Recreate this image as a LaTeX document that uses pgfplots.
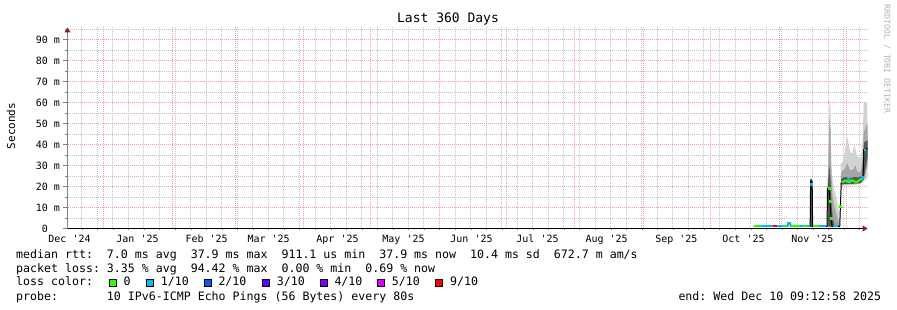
\documentclass[border=0pt]{standalone}
\usepackage{fontspec}
\setmonofont{DejaVu Sans Mono}
\usepackage{pgfplots}
\pgfplotsset{compat=1.18}
\usetikzlibrary{arrows.meta}
\definecolor{mgrid}{RGB}{245,160,160}
\definecolor{mingrid}{RGB}{195,195,195}
\definecolor{arrowred}{RGB}{140,30,30}
\definecolor{loss0}{HTML}{26FF00}
\definecolor{loss1}{HTML}{00B8FF}
\definecolor{loss2}{HTML}{0059FF}
\definecolor{loss3}{HTML}{5E00FF}
\definecolor{loss4}{HTML}{7E00FF}
\definecolor{loss5}{HTML}{DD00FF}
\definecolor{loss9}{HTML}{FF0000}
\definecolor{smokeA}{RGB}{210,210,210}
\definecolor{smokeB}{RGB}{165,165,165}
\definecolor{smokeC}{RGB}{85,85,85}
\newcommand{\lsq}[1]{{\fboxsep=0pt\fboxrule=0.8bp\fcolorbox{black}{#1}{\rule{0pt}{6.4bp}\hspace{6.4bp}}}}
\newcommand{\legfont}{\ttfamily\fontsize{11.6bp}{14bp}\selectfont}
\begin{document}
\begin{tikzpicture}[font=\ttfamily]
\useasboundingbox (0,0) rectangle (897bp,310bp);
\begin{axis}[
  at={(67.5bp,81.5bp)}, anchor=south west,
  scale only axis, width=800bp, height=201bp,
  xmin=0, xmax=360, ymin=0, ymax=95.7,
  axis lines=left,
  x axis line style={black, line width=1bp, -{Triangle[length=5bp,width=6bp,color=arrowred]}},
  y axis line style={gray, line width=1bp, -{Triangle[length=5bp,width=6bp,color=arrowred]}},
  xtick={0.9,31.5,62.6,90.5,121.5,151.2,181.8,211.5,242.6,274,304.2,335.2},
  xticklabels={Dec '24,Jan '25,Feb '25,Mar '25,Apr '25,May '25,Jun '25,Jul '25,Aug '25,Sep '25,Oct '25,Nov '25},
  xticklabel style={anchor=center, yshift=-7.5bp, text height=7bp, text depth=1bp, inner sep=0pt},
  major x tick style={draw=none},
  minor xtick={6.4,13.4,...,357},
  xmajorgrids=false, xminorgrids=true,
  ymajorgrids=true, yminorgrids=true,
  ytick={0,10,...,90},
  yticklabels={0\phantom{\ m},10 m,20 m,30 m,40 m,50 m,60 m,70 m,80 m,90 m},
  minor ytick={4.76,14.76,...,95},
  major grid style={draw=mgrid, dash pattern=on 1bp off 1bp, line width=1bp},
  minor grid style={draw=mingrid, dash pattern=on 1bp off 1bp, line width=1bp},
  tick align=outside, major tick length=4bp, minor tick length=2bp,
  tick label style={font=\ttfamily\fontsize{10bp}{12bp}\selectfont},
]
% month boundary grid lines
\pgfplotsinvokeforeach{16.2,47.25,75.6,106.2,136.35,167.4,197.55,228.15,259.2,289.35,320.4,350.55}{
  \addplot[mgrid, dash pattern=on 1bp off 1bp, line width=1bp, forget plot] coordinates {(#1,0)(#1,95.7)};
}
% smoke: spike 1
\addplot[fill=smokeC, draw=none] coordinates {(334.2,0.8)(334.2,23.5)(335.2,23.5)(335.2,0.8)} -- cycle;
% smoke: spike 2
\addplot[fill=smokeA, draw=none] coordinates {(341.9,0.8)(342.0,20)(342.5,40)(342.9,61)(343.3,61)(343.5,45)(343.8,30)(344.3,23)(345,19)(345.8,16)(346.5,12)(347.2,7)(347.6,2)(347.6,0.5)(341.9,0.5)} -- cycle;
\addplot[fill=smokeB, draw=none] coordinates {(342.0,1)(342.2,25)(342.9,52)(343.3,50)(343.6,30)(344.2,16)(345,11)(345.8,8)(346.5,5)(347.2,2)(347.3,0.8)} -- cycle;
\addplot[fill=smokeC, draw=none] coordinates {(342,1)(342.1,20)(342.9,30)(343.4,22)(343.9,10)(344.5,4)(345.2,1.5)(345.5,0.8)} -- cycle;
% smoke: region 3
\addplot[fill=smokeA, draw=none] coordinates {(347.6,1)(347.8,12)(348.1,31)(349,32)(350,38)(350.8,44.5)(351.5,40)(352.3,36)(353.2,36)(354.1,40)(355.2,35)(356.2,33)(357.1,34)(357.8,43)(358.3,60)(359.8,60)(360,45)(360,24)(358.3,22.5)(356,21)(352,20.5)(348.2,20.5)(347.8,1)} -- cycle;
\addplot[fill=smokeB, draw=none] coordinates {(348.1,21)(348.2,27)(349.5,28)(351,31)(352,28)(353.5,28)(354.5,30)(355.5,27)(357,27)(357.8,32)(358.3,46)(360,50)(360,30)(358.3,23)(348.1,21)} -- cycle;
\addplot[fill=smokeC, draw=none] coordinates {(348.1,21)(348.2,23.8)(350,24.5)(352,24)(354,24.5)(356,24.3)(357.6,25)(358.2,36)(358.5,41)(360,42)(360,34)(358.4,24)(357,21.5)(348.2,21)} -- cycle;
% median (black)
\addplot[black, line width=1bp] coordinates {(308.7,1.0)(324.0,1.0)(324.3,2.6)(325.2,2.6)(325.5,1.0)(334.2,1.0)(334.4,22.5)(335.1,22.5)(335.3,1.0)(341.8,1.0)(342.0,19)(342.6,19)(343.1,13)(343.6,5)(344.0,1.0)(347.5,1.0)(347.8,10.5)(348.2,22)(349,22.3)(350,22.8)(351,22.3)(352,22)(353,23)(354,22.5)(355,22)(356,22.8)(357,23.5)(358,23.5)(358.3,37.5)(360,38)};
% loss-coloured median segments
\addplot[loss0, line width=2bp] coordinates {(308.7,1)(311.9,1)};
\addplot[loss1, line width=2bp] coordinates {(311.9,1)(317.3,1)};
\addplot[loss9, line width=2bp] coordinates {(317.3,1)(319.1,1)};
\addplot[loss1, line width=2bp] coordinates {(319.1,1)(322.1,1)};
\addplot[loss0, line width=2bp] coordinates {(322.1,1)(324.0,1)};
\addplot[loss1, line width=2bp] coordinates {(324.0,1)(324.3,2.6)(325.2,2.6)(325.5,1)};
\addplot[loss0, line width=2bp] coordinates {(325.5,1)(329.8,1)};
\addplot[loss1, line width=2bp] coordinates {(329.8,1)(331.0,1)};
\addplot[loss0, line width=2bp] coordinates {(331.0,1)(332.8,1)};
\addplot[loss1, line width=2bp] coordinates {(332.8,1)(334.2,1)};
\addplot[loss0, line width=2bp] coordinates {(335.3,1)(338.2,1)};
\addplot[loss1, line width=2bp] coordinates {(338.2,1)(341.5,1)};
\addplot[loss1, line width=2bp] coordinates {(344.5,1)(346.8,1)};
\addplot[loss0, line width=2bp] coordinates {(348.3,22)(349,22.3)(350,22.8)(351,22.3)(352,22)(353,23)(354,22.5)(355,22)(356,22.8)(357,23.5)(358,23.5)};
\addplot[loss1, line width=2bp] coordinates {(358.6,37.5)(359.3,37.5)};
\addplot[loss0, only marks, mark=square*, mark size=1bp] coordinates {(342.6,19)(343.2,13)(343.8,5)(347.8,10.5)};
\addplot[loss1, only marks, mark=square*, mark size=1bp] coordinates {(334.7,21)(351.3,23.5)(357.6,24.5)};
\end{axis}
\node[font=\ttfamily\fontsize{13bp}{15bp}\selectfont] at (448bp,291bp) {Last 360 Days};
\node[rotate=90, font=\ttfamily\fontsize{11bp}{13bp}\selectfont] at (11bp,184bp) {Seconds};
\node[rotate=-90, text=black!30, font=\ttfamily\fontsize{8.2bp}{10bp}\selectfont] at (887bp,251bp) {RRDTOOL / TOBI OETIKER};
\node[anchor=base west, inner sep=0, font=\legfont] at (16bp,51.7bp) {median rtt:\ \ 7.0 ms avg\ \ 37.9 ms max\ \ 911.1 us min\ \ 37.9 ms now\ \ 10.4 ms sd\ \ 672.7 m am/s};
\node[anchor=base west, inner sep=0, font=\legfont] at (16bp,37.7bp) {packet loss: 3.35 \% avg\ \ 94.42 \% max\ \ 0.00 \% min\ \ 0.69 \% now};
\node[anchor=base west, inner sep=0, font=\legfont] at (16bp,24.3bp) {loss color:};
\node[anchor=base west, inner sep=0, font=\legfont] at (108.3bp,24.3bp) {\lsq{loss0}\hspace{7bp}0};
\node[anchor=base west, inner sep=0, font=\legfont] at (145.7bp,24.3bp) {\lsq{loss1}\hspace{7bp}1/10};
\node[anchor=base west, inner sep=0, font=\legfont] at (203.3bp,24.3bp) {\lsq{loss2}\hspace{7bp}2/10};
\node[anchor=base west, inner sep=0, font=\legfont] at (261.7bp,24.3bp) {\lsq{loss3}\hspace{7bp}3/10};
\node[anchor=base west, inner sep=0, font=\legfont] at (319.3bp,24.3bp) {\lsq{loss4}\hspace{7bp}4/10};
\node[anchor=base west, inner sep=0, font=\legfont] at (376.7bp,24.3bp) {\lsq{loss5}\hspace{7bp}5/10};
\node[anchor=base west, inner sep=0, font=\legfont] at (435bp,24.3bp) {\lsq{loss9}\hspace{7bp}9/10};
\node[anchor=base west, inner sep=0, font=\legfont] at (16bp,10bp) {probe:\ \ \ \ \ \ \ 10 IPv6-ICMP Echo Pings (56 Bytes) every 80s};
\node[anchor=base west, inner sep=0, font=\legfont] at (678.3bp,10bp) {end: Wed Dec 10 09:12:58 2025};
\end{tikzpicture}
\end{document}
